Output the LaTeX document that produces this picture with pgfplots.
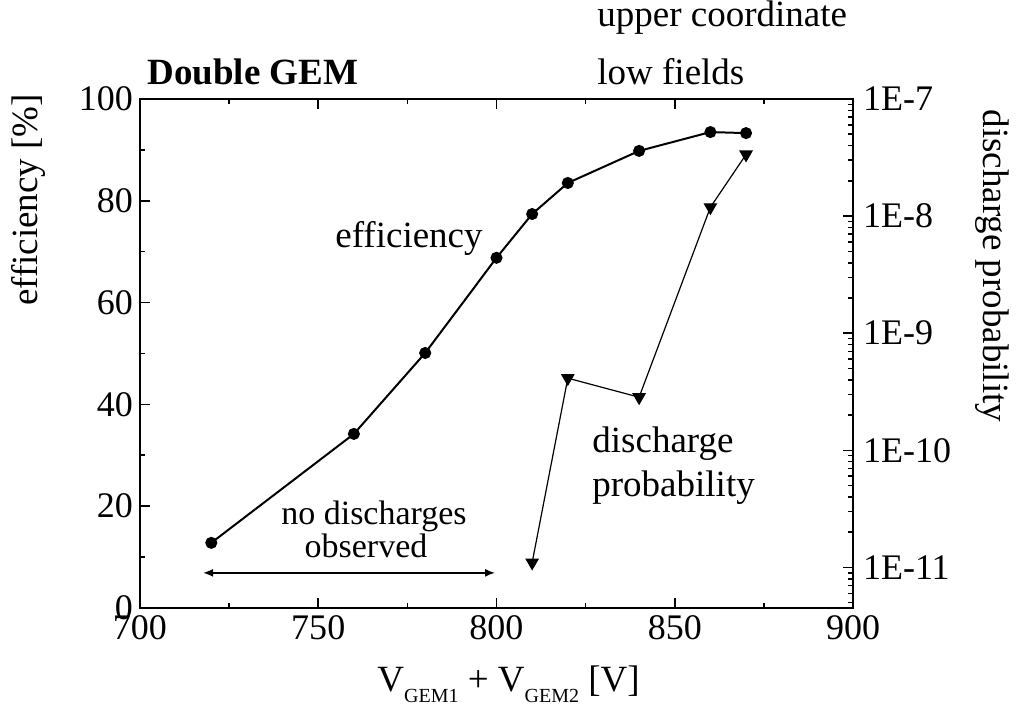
\documentclass[border=0pt]{standalone}
\usepackage{fontspec}
\setmainfont{Liberation Serif}
\usepackage{pgfplots}
\pgfplotsset{compat=1.18}
\usetikzlibrary{arrows.meta}
\begin{document}
\begin{tikzpicture}
\useasboundingbox (-70pt,-51.5pt) rectangle (444pt,304pt);
\pgfplotsset{
 every axis/.append style={
  scale only axis, width=356.5pt, height=254.5pt,
  at={(0,0)}, anchor=south west,
  xmin=700, xmax=900,
  tick align=inside,
  major tick length=5pt, minor tick length=2.5pt,
  axis line style={line width=1pt},
  every tick/.style={line width=0.8pt, black},
  tick label style={font=\fontsize{18}{20}\selectfont},
  /pgf/number format/assume math mode=true,
 }
}
\begin{axis}[
  ymin=0, ymax=100,
  xtick={700,750,800,850,900}, minor x tick num=1,
  ytick={0,20,40,60,80,100}, minor y tick num=1,
  ytick pos=left, xtick pos=both, xticklabel pos=lower,
  clip=false,
]
\addplot[black, line width=1pt, mark=*, mark size=2.5pt] coordinates {
(720,12.8) (760,34.2) (780,50.1) (800,68.8) (810,77.4) (820,83.5) (840,89.8) (860,93.5) (870,93.3)
};
\draw[{Latex[length=5pt,width=4pt]}-{Latex[length=5pt,width=4pt]}, line width=0.8pt] (axis cs:717.7,6.9) -- (axis cs:799.6,6.9);
\end{axis}
\begin{axis}[
  ymode=log, ymin=4.5e-12, ymax=1e-7,
  axis y line*=right, axis x line=none,
  ytick={1e-11,1e-10,1e-9,1e-8,1e-7},
  yticklabels={1E-11,1E-10,1E-9,1E-8,1E-7},
  minor ytick={5e-12,6e-12,7e-12,8e-12,9e-12,
    2e-11,3e-11,4e-11,5e-11,6e-11,7e-11,8e-11,9e-11,
    2e-10,3e-10,4e-10,5e-10,6e-10,7e-10,8e-10,9e-10,
    2e-9,3e-9,4e-9,5e-9,6e-9,7e-9,8e-9,9e-9,
    2e-8,3e-8,4e-8,5e-8,6e-8,7e-8,8e-8,9e-8},
  yticklabel style={xshift=1.5pt},
  clip=false,
]
\addplot[black, line width=0.6pt, mark=triangle*, mark size=3.4pt, mark options={rotate=180}] coordinates {
(810,1.10e-11) (820,4.13e-10) (840,2.84e-10) (860,1.19e-8) (870,3.36e-8)
};
\end{axis}
\tikzset{txt/.style={inner sep=0pt, font=\fontsize{18.5}{20}\selectfont}}
\node[txt, anchor=base west] at (3.5pt,261.5pt) {\textbf{Double GEM}};
\node[txt, anchor=base west] at (228.5pt,290.5pt) {upper coordinate};
\node[txt, anchor=base west] at (228.5pt,261.5pt) {low fields};
\node[txt, anchor=base west] at (97.5pt,180pt) {efficiency};
\node[txt, anchor=base west] at (226pt,77.5pt) {discharge};
\node[txt, anchor=base west] at (226pt,55.5pt) {probability};
\node[inner sep=0pt, font=\fontsize{17}{18}\selectfont, anchor=base] at (117pt,41.5pt) {no discharges};
\node[inner sep=0pt, font=\fontsize{17}{18}\selectfont, anchor=base] at (113pt,25pt) {observed};
\node[txt, rotate=90] at (-56pt,204pt) {efficiency [\%]};
\node[txt, rotate=-90] at (426pt,171pt) {discharge probability};
\node[txt, anchor=base west] at (118.5pt,-42pt) {V\raisebox{-5.5pt}{\fontsize{10}{10}\selectfont GEM1} + V\raisebox{-5.5pt}{\fontsize{10}{10}\selectfont GEM2} [V]};
\end{tikzpicture}
\end{document}
